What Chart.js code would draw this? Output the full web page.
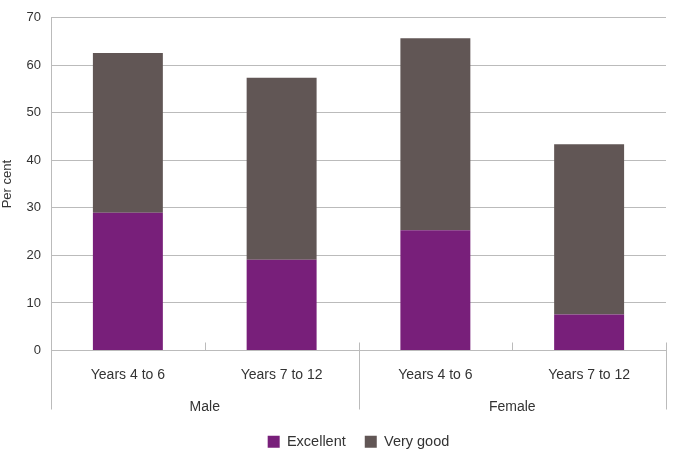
<!DOCTYPE html>
<html>
<head>
    <title>Excellent / Very good by year group</title>
    <script src="https://cdn.jsdelivr.net/npm/chart.js"></script>
    <style>
        body {
            margin: 0;
            padding: 0;
            background-color: white;
        }
        #chart-box {
            width: 675px;
            height: 456px;
            position: relative;
        }
    </style>
</head>
<body>
    <div id="chart-box"><canvas id="chart"></canvas></div>
    <script>
        // data
        const categories = ['Years 4 to 6', 'Years 7 to 12', 'Years 4 to 6', 'Years 7 to 12'];
        const groups = ['Male', 'Female'];
        const excellent = [29.0, 19.1, 25.3, 7.6];
        const veryGood = [33.6, 38.3, 40.4, 35.8];
        const yMax = 70;
        const yStep = 10;

        const fontFamily = "'Liberation Sans', Arial, sans-serif";
        const textColor = '#333';
        const lineColor = '#bbbbbb';

        // group labels and separator lines under the x axis
        const groupAxis = {
            id: 'groupAxis',
            afterDraw(chart) {
                const xs = chart.scales.x;
                const ys = chart.scales.y;
                const ctx = chart.ctx;
                const base = ys.bottom;
                const mid = (i) => (xs.getPixelForTick(i) + xs.getPixelForTick(i + 1)) / 2;

                ctx.save();
                ctx.strokeStyle = lineColor;
                ctx.lineWidth = 1;
                ctx.beginPath();
                // left edge continues the y axis down
                ctx.moveTo(Math.round(xs.left) + 0.5, base);
                ctx.lineTo(Math.round(xs.left) + 0.5, base + 59);
                // between the groups and at the right end
                [mid(1), xs.right].forEach(x => {
                    ctx.moveTo(Math.round(x) + 0.5, base - 8);
                    ctx.lineTo(Math.round(x) + 0.5, base + 59);
                });
                // small ticks between categories within a group
                [mid(0), mid(2)].forEach(x => {
                    ctx.moveTo(Math.round(x) + 0.5, base - 8);
                    ctx.lineTo(Math.round(x) + 0.5, base);
                });
                ctx.stroke();

                ctx.fillStyle = textColor;
                ctx.font = '14px ' + fontFamily;
                ctx.textAlign = 'center';
                ctx.textBaseline = 'middle';
                groups.forEach((g, i) => {
                    const x = (xs.getPixelForTick(i * 2) + xs.getPixelForTick(i * 2 + 1)) / 2;
                    ctx.fillText(g, x, base + 57);
                });
                ctx.restore();
            }
        };

        new Chart(document.getElementById('chart'), {
            type: 'bar',
            data: {
                labels: categories,
                datasets: [{
                    label: 'Excellent',
                    data: excellent,
                    backgroundColor: '#781f7a'
                }, {
                    label: 'Very good',
                    data: veryGood,
                    backgroundColor: '#615655'
                }]
            },
            options: {
                responsive: true,
                maintainAspectRatio: false,
                animation: false,
                categoryPercentage: 1,
                barPercentage: 0.455,
                layout: {
                    padding: { top: 15, right: 9, left: 0, bottom: -3 }
                },
                scales: {
                    x: {
                        stacked: true,
                        grid: { display: false, drawTicks: false },
                        border: { display: false },
                        ticks: {
                            color: textColor,
                            padding: 16,
                            font: { family: fontFamily, size: 14 }
                        },
                        afterFit: (scale) => { scale.height = 65; }
                    },
                    y: {
                        stacked: true,
                        min: 0,
                        max: yMax,
                        grid: { color: lineColor, drawTicks: false },
                        border: { display: true, color: lineColor },
                        ticks: {
                            stepSize: yStep,
                            color: textColor,
                            padding: 10,
                            font: { family: fontFamily, size: 13 }
                        },
                        title: {
                            display: true,
                            text: 'Per cent',
                            color: textColor,
                            padding: 0,
                            font: { family: fontFamily, size: 13 }
                        },
                        afterFit: (scale) => { scale.width = 51; }
                    }
                },
                plugins: {
                    legend: {
                        position: 'bottom',
                        fullSize: false,
                        labels: {
                            boxWidth: 12,
                            boxHeight: 12,
                            padding: 19,
                            color: textColor,
                            font: { family: fontFamily, size: 14.5 }
                        }
                    },
                    tooltip: { enabled: false }
                }
            },
            plugins: [groupAxis]
        });
    </script>
</body>
</html>
